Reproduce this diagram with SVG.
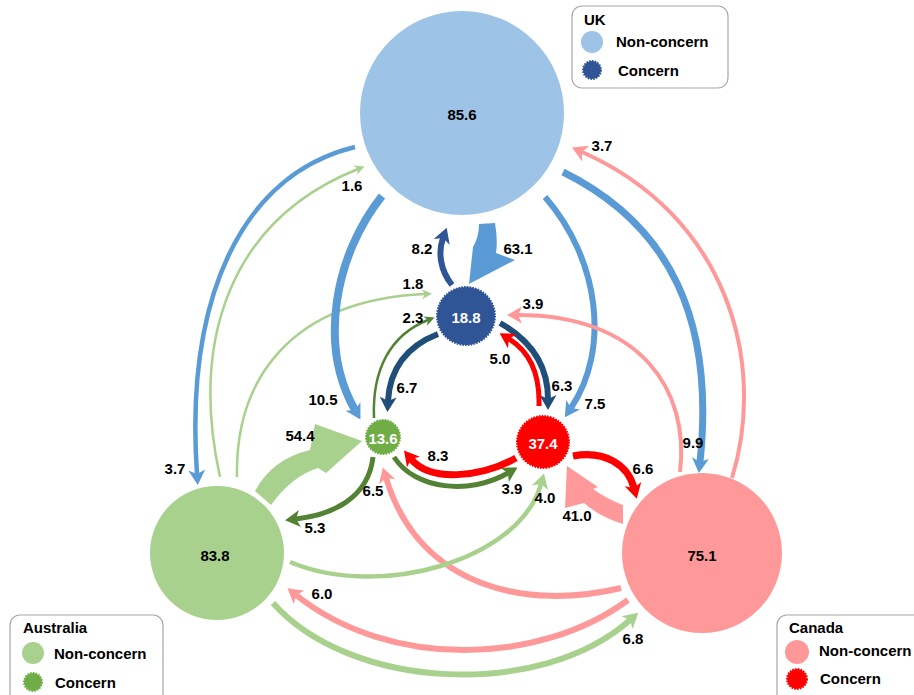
<svg xmlns="http://www.w3.org/2000/svg" width="914" height="695" viewBox="0 0 914 695">
<style>
.bg{fill:#fff}
.lbl{font-family:"Liberation Sans",Arial,sans-serif;font-weight:bold;font-size:15px;fill:#000;text-anchor:middle;dominant-baseline:central}
.wl{fill:#fff}
.leg{font-family:"Liberation Sans",Arial,sans-serif;font-weight:bold;font-size:15px;fill:#000}
.box{fill:#fff;stroke:#a6a6a6;stroke-width:1.2}
.conn path{fill:none;stroke-linecap:butt}
.conn path.fb{fill:#5b9bd5;stroke:none}
.conn path.flg{fill:#a9d18e;stroke:none}
.conn path.fpk{fill:#ff9999;stroke:none}
.cc{stroke-dasharray:1.6 1.2;stroke-width:2}
.b{stroke:#5b9bd5}.db{stroke:#2f5597}.nv{stroke:#1f4e79}.lg{stroke:#a9d18e}.dg{stroke:#548235}.pk{stroke:#ff9999}.rd{stroke:#ff0000}
</style>
<defs>
<marker id="bM" markerUnits="userSpaceOnUse" viewBox="0 -9 16 18" markerWidth="16" markerHeight="18" refX="4" refY="0" orient="auto"><path d="M0,-8.5L15,0L0,8.5L4,0z" fill="#5b9bd5"/></marker>
<marker id="dbM" markerUnits="userSpaceOnUse" viewBox="0 -9 16 18" markerWidth="16" markerHeight="18" refX="4" refY="0" orient="auto"><path d="M0,-8.5L15,0L0,8.5L4,0z" fill="#2f5597"/></marker>
<marker id="nvM" markerUnits="userSpaceOnUse" viewBox="0 -9 16 18" markerWidth="16" markerHeight="18" refX="4" refY="0" orient="auto"><path d="M0,-8.5L15,0L0,8.5L4,0z" fill="#1f4e79"/></marker>
<marker id="lgS" markerUnits="userSpaceOnUse" viewBox="0 -6 11 12" markerWidth="11" markerHeight="12" refX="3" refY="0" orient="auto"><path d="M0,-5L10,0L0,5L3,0z" fill="#a9d18e"/></marker>
<marker id="lgM" markerUnits="userSpaceOnUse" viewBox="0 -9 16 18" markerWidth="16" markerHeight="18" refX="4" refY="0" orient="auto"><path d="M0,-8.5L15,0L0,8.5L4,0z" fill="#a9d18e"/></marker>
<marker id="dgS" markerUnits="userSpaceOnUse" viewBox="0 -6 11 12" markerWidth="11" markerHeight="12" refX="3" refY="0" orient="auto"><path d="M0,-5L10,0L0,5L3,0z" fill="#548235"/></marker>
<marker id="dgM" markerUnits="userSpaceOnUse" viewBox="0 -9 16 18" markerWidth="16" markerHeight="18" refX="4" refY="0" orient="auto"><path d="M0,-8.5L15,0L0,8.5L4,0z" fill="#548235"/></marker>
<marker id="pkM" markerUnits="userSpaceOnUse" viewBox="0 -9 16 18" markerWidth="16" markerHeight="18" refX="4" refY="0" orient="auto"><path d="M0,-8.5L15,0L0,8.5L4,0z" fill="#ff9999"/></marker>
<marker id="rdM" markerUnits="userSpaceOnUse" viewBox="0 -9 16 18" markerWidth="16" markerHeight="18" refX="4" refY="0" orient="auto"><path d="M0,-8.5L15,0L0,8.5L4,0z" fill="#ff0000"/></marker>
</defs>
<rect class="bg" width="914" height="695"/>

<g id="connectors" class="conn">
<path class="b" stroke-width="4.5" d="M355,147 C240,175 185,300 197,474" marker-end="url(#bM)"/>
<path class="lg" stroke-width="2.5" d="M220,477 C190,340 230,220 358,169" marker-end="url(#lgS)"/>
<path class="lg" stroke-width="2.5" d="M237,477 C235,380 290,300 425,294" marker-end="url(#lgS)"/>
<path class="b" stroke-width="8" d="M382,196 C335,255 318,345 355,410" marker-end="url(#bM)"/>
<path class="fb" d="M479,224 L495,223 Q498,240 496,253 L515,260 L469,284 L473,247 Q479,237 479,224 Z"/>
<path class="db" stroke-width="6" d="M452,285 C440,270 438,252 443,238" marker-end="url(#dbM)"/>
<path class="b" stroke-width="6" d="M545,197 C600,260 610,350 571,408" marker-end="url(#bM)"/>
<path class="b" stroke-width="7" d="M563,172 C670,225 715,320 700,462" marker-end="url(#bM)"/>
<path class="pk" stroke-width="4" d="M732,478 C768,360 725,215 582,152" marker-end="url(#pkM)"/>
<path class="pk" stroke-width="4" d="M680,472 C690,390 640,315 518,315" marker-end="url(#pkM)"/>
<path class="dg" stroke-width="2.5" d="M374,418 C372,370 390,335 428,320" marker-end="url(#dgS)"/>
<path class="nv" stroke-width="6" d="M438,334 C410,345 390,365 388,401" marker-end="url(#nvM)"/>
<path class="nv" stroke-width="6" d="M500,323 C530,340 548,365 548,399" marker-end="url(#nvM)"/>
<path class="rd" stroke-width="5" d="M539,406 C540,375 530,352 509,339" marker-end="url(#rdM)"/>
<path class="flg" d="M255,491 Q272,459 310,450 L315,424 L362,441 L326,473 L318,468 Q292,476 271,505 Z"/>
<path class="dg" stroke-width="5" d="M373,457 C368,500 330,515 296,519" marker-end="url(#dgM)"/>
<path class="dg" stroke-width="5" d="M394,457 C415,490 470,495 508,473" marker-end="url(#dgM)"/>
<path class="rd" stroke-width="7" d="M516,458 C480,478 430,482 411,459" marker-end="url(#rdM)"/>
<path class="rd" stroke-width="7" d="M573,456 C605,450 628,465 634,488" marker-end="url(#rdM)"/>
<path class="fpk" d="M567,466 L598,487 L593,489 Q607,499 623,505 L623,524 Q600,517 584,503 L565,508 Z"/>
<path class="pk" stroke-width="6" d="M621,588 C530,610 420,590 386,478" marker-end="url(#pkM)"/>
<path class="lg" stroke-width="4.5" d="M290,562 C380,600 520,560 541,484" marker-end="url(#lgM)"/>
<path class="pk" stroke-width="6" d="M628,600 C540,665 390,670 296,595" marker-end="url(#pkM)"/>
<path class="lg" stroke-width="6" d="M273,603 C350,690 540,700 630,620" marker-end="url(#lgM)"/>
</g>

<g id="uk-nonconcern"><circle cx="462" cy="113" r="102" fill="#9dc3e6"/><text class="lbl" x="462" y="114">85.6</text></g>
<g id="uk-concern"><circle class="cc" cx="466" cy="316" r="29" fill="#2f5597" stroke="#2f5597"/><text class="lbl wl" x="466" y="317">18.8</text></g>
<g id="aus-concern"><circle class="cc" cx="383" cy="437" r="17" fill="#70ad47" stroke="#70ad47"/><text class="lbl wl" x="383" y="438" font-size="14">13.6</text></g>
<g id="can-concern"><circle class="cc" cx="543" cy="442" r="26" fill="#ff0000" stroke="#ff0000"/><text class="lbl wl" x="543" y="443">37.4</text></g>
<g id="aus-nonconcern"><circle cx="217" cy="553" r="67" fill="#a9d18e"/><text class="lbl" x="215" y="555">83.8</text></g>
<g id="can-nonconcern"><circle cx="702" cy="553" r="80" fill="#ff9999"/><text class="lbl" x="702" y="555">75.1</text></g>

<g id="labels">
<text class="lbl" x="518" y="248">63.1</text>
<text class="lbl" x="422" y="248">8.2</text>
<text class="lbl" x="413" y="283">1.8</text>
<text class="lbl" x="413" y="317">2.3</text>
<text class="lbl" x="533" y="303">3.9</text>
<text class="lbl" x="500" y="358">5.0</text>
<text class="lbl" x="407" y="387">6.7</text>
<text class="lbl" x="562" y="385">6.3</text>
<text class="lbl" x="595" y="403">7.5</text>
<text class="lbl" x="438" y="455">8.3</text>
<text class="lbl" x="512" y="488">3.9</text>
<text class="lbl" x="373" y="490">6.5</text>
<text class="lbl" x="545" y="497">4.0</text>
<text class="lbl" x="352" y="185">1.6</text>
<text class="lbl" x="323" y="399">10.5</text>
<text class="lbl" x="300" y="435">54.4</text>
<text class="lbl" x="175" y="468">3.7</text>
<text class="lbl" x="602" y="145">3.7</text>
<text class="lbl" x="693" y="442">9.9</text>
<text class="lbl" x="643" y="468">6.6</text>
<text class="lbl" x="315" y="527">5.3</text>
<text class="lbl" x="577" y="515">41.0</text>
<text class="lbl" x="322" y="593">6.0</text>
<text class="lbl" x="633" y="638">6.8</text>
</g>

<g id="legend-uk">
<rect class="box" x="572" y="6" width="156" height="82" rx="10"/>
<text class="leg" x="584" y="25">UK</text>
<circle cx="592" cy="42" r="11" fill="#9dc3e6"/>
<text class="leg" x="616" y="47">Non-concern</text>
<circle class="cc" cx="592" cy="70" r="9" fill="#2f5597" stroke="#2f5597"/>
<text class="leg" x="618" y="76">Concern</text>
</g>
<g id="legend-australia">
<rect class="box" x="10" y="615" width="153" height="100" rx="10"/>
<text class="leg" x="23" y="633">Australia</text>
<circle cx="33" cy="653" r="11" fill="#a9d18e"/>
<text class="leg" x="54" y="659">Non-concern</text>
<circle class="cc" cx="33" cy="682" r="9" fill="#70ad47" stroke="#70ad47"/>
<text class="leg" x="55" y="688">Concern</text>
</g>
<g id="legend-canada">
<rect class="box" x="777" y="615" width="160" height="100" rx="10"/>
<text class="leg" x="789" y="633">Canada</text>
<circle cx="797" cy="652" r="12" fill="#ff9999"/>
<text class="leg" x="819" y="656">Non-concern</text>
<circle class="cc" cx="797" cy="679" r="10" fill="#ff0000" stroke="#ff0000"/>
<text class="leg" x="820" y="684">Concern</text>
</g>
</svg>
